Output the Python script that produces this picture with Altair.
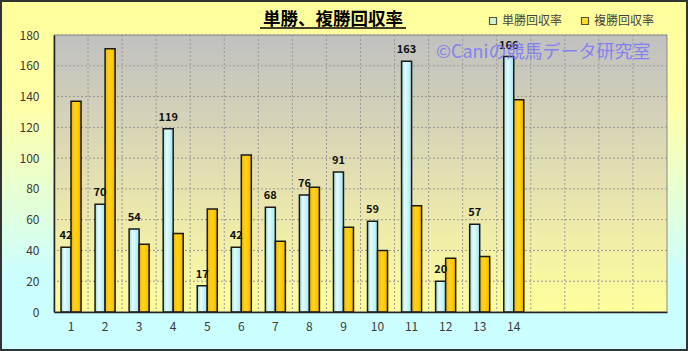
import altair as alt
import pandas as pd

# ---- data ----
categories = [str(i) for i in range(1, 15)]
slots = [str(i) for i in range(1, 19)]          # axis has 18 slots, 15-18 empty
series = ["単勝回収率", "複勝回収率"]
tansho = [42, 70, 54, 119, 17, 42, 68, 76, 91, 59, 163, 20, 57, 166]
fukusho = [137, 171, 44, 51, 67, 102, 46, 81, 55, 40, 69, 35, 36, 138]
y_ticks = list(range(0, 181, 20))
title_text = "単勝、複勝回収率"
watermark = "©Caniの競馬データ研究室"

rows = []
for c, t, f in zip(categories, tansho, fukusho):
    rows.append({"cat": c, "series": series[0], "value": t})
    rows.append({"cat": c, "series": series[1], "value": f})
df = pd.DataFrame(rows)

FONT = "Noto Sans CJK JP"
W, H = 613, 277
PL, PT, PR, PB = 54, 35, 21, 39

x_scale = alt.Scale(domain=slots, paddingInner=0, paddingOuter=0)
y_scale = alt.Scale(domain=[0, 180], nice=False)
off_scale = alt.Scale(domain=series, paddingInner=0, paddingOuter=0.7)
one = alt.Data(values=[{}])

x_axis = alt.Axis(labelExpr="toNumber(datum.value) > 14 ? '' : datum.label",
                  ticks=False, grid=False, labelAngle=0, labelPadding=9,
                  labelFont=FONT, labelFontSize=12, labelColor="#3a3a3a",
                  domainColor="#222222", domainWidth=1.5, zindex=1, title=None)
y_axis = alt.Axis(values=y_ticks, ticks=False, grid=False, labelPadding=15,
                  labelFont=FONT, labelFontSize=12, labelColor="#3a3a3a",
                  domainColor="#222222", domainWidth=1.5, zindex=1, title=None)


def vgrad(stops):
    return alt.LinearGradient(gradient="linear", x1=0, x2=0, y1=0, y2=1,
                              stops=[alt.GradientStop(color=c, offset=o) for o, c in stops])


def hgrad(stops):
    return alt.LinearGradient(gradient="linear", x1=0, x2=1, y1=0, y2=0,
                              stops=[alt.GradientStop(color=c, offset=o) for o, c in stops])


outer_grad = vgrad([(0, "#ffff9c"), (0.3, "#ffffa8"), (0.58, "#e4ffd8"), (0.78, "#ccffff"), (1, "#ccffff")])
plot_grad = vgrad([(0, "#c0c0c0"), (0.55, "#e6e2b0"), (1, "#ffff9c")])
cyan_grad = hgrad([(0, "#9cd8de"), (0.35, "#e2fdff"), (0.7, "#c4f2f6"), (1, "#a6e2e8")])
gold_grad = hgrad([(0, "#f0b400"), (0.4, "#ffd31c"), (0.75, "#ffc800"), (1, "#e2a600")])

outer = alt.Chart(one).mark_rect(fill=outer_grad, stroke="#333333", strokeWidth=2).encode(
    x=alt.value(-PL + 1), x2=alt.value(W + PR - 1),
    y=alt.value(-PT + 1), y2=alt.value(H + PB - 1))

plot_bg = alt.Chart(one).mark_rect(fill=plot_grad, stroke="#8a8a8a", strokeWidth=1).encode(
    x=alt.value(0), x2=alt.value(W), y=alt.value(0), y2=alt.value(H))

hgrid = alt.Chart(pd.DataFrame({"value": y_ticks[1:]})).mark_rule(
    color="#999999", strokeDash=[2, 2], strokeWidth=1).encode(
    y=alt.Y("value:Q", scale=y_scale, axis=y_axis))

vgrid = alt.Chart(pd.DataFrame({"cat": slots[1:]})).mark_rule(
    color="#999999", strokeDash=[2, 2], strokeWidth=1).encode(
    x=alt.X("cat:N", scale=x_scale, bandPosition=0, axis=x_axis))

# legend source (no marks drawn; legend comes from the explicit color scale)
legend_layer = alt.Chart(df).transform_filter("false").mark_square().encode(
    x=alt.X("cat:N", scale=x_scale, axis=x_axis),
    y=alt.Y("value:Q", scale=y_scale, axis=y_axis),
    color=alt.Color("series:N", scale=alt.Scale(domain=series, range=["#bdeff3", "#ffcc00"]),
                    legend=alt.Legend(title=None, orient="none", legendX=433, legendY=-20,
                                      direction="horizontal", symbolType="square",
                                      symbolSize=49, symbolStrokeColor="#111111",
                                      symbolStrokeWidth=1.2,
                                      labelFont=FONT, labelFontSize=12,
                                      labelColor="#444444", labelOffset=3, columnPadding=16,
                                      padding=0, zindex=1)),
)


def bar_layer(name, grad):
    return alt.Chart(df).transform_filter(alt.datum.series == name).mark_bar(
        fill=grad, stroke="#1a1a1a", strokeWidth=1.5).encode(
        x=alt.X("cat:N", scale=x_scale, axis=x_axis),
        xOffset=alt.XOffset("series:N", scale=off_scale),
        y=alt.Y("value:Q", scale=y_scale, axis=y_axis))


bars_t = bar_layer(series[0], cyan_grad)
bars_f = bar_layer(series[1], gold_grad)

labels = alt.Chart(df).transform_filter(alt.datum.series == series[0]).mark_text(
    baseline="alphabetic", dy=-8, fontWeight="bold", fontSize=11, font=FONT, color="#111111").encode(
    x=alt.X("cat:N", scale=x_scale, axis=x_axis),
    xOffset=alt.XOffset("series:N", scale=off_scale),
    y=alt.Y("value:Q", scale=y_scale, axis=y_axis),
    text=alt.Text("value:Q"))

title = alt.Chart(one).mark_text(text=title_text, font=FONT, fontSize=17.5, fontWeight="bold",
                                 color="#000000", align="center", baseline="alphabetic").encode(
    x=alt.value(279), y=alt.value(-10))
underline = alt.Chart(one).mark_rule(color="#000000", strokeWidth=1.5).encode(
    x=alt.value(206), x2=alt.value(352), y=alt.value(-7))

wm = alt.Chart(one).mark_text(text=watermark, font=FONT, fontSize=18, color="#7878f8",
                              opacity=0.85, align="left", baseline="middle").encode(
    x=alt.value(382), y=alt.value(18))

chart = alt.layer(outer, plot_bg, hgrid, vgrid, legend_layer, bars_t, bars_f, labels,
                  title, underline, wm).properties(
    width=W, height=H, padding=0, background="#ffffff"
).configure_view(stroke=None)

chart.save("out.html", embed_options={"renderer": "svg", "actions": False})
